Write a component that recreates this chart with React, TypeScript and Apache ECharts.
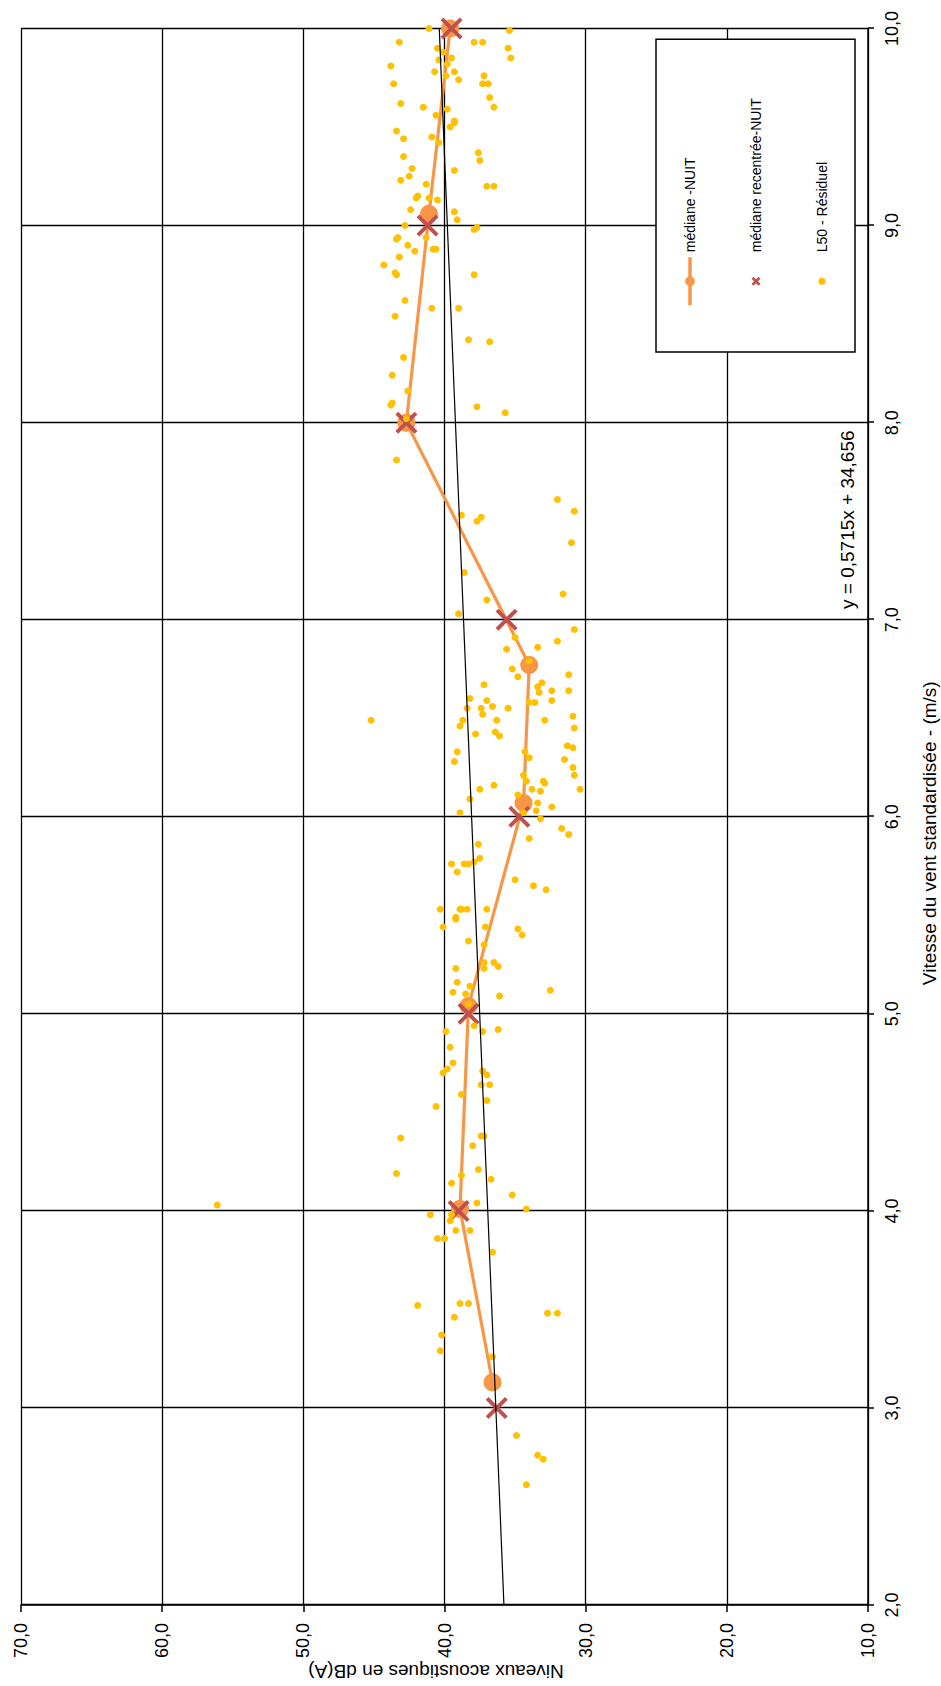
import React, { useEffect, useRef } from "react";
import * as echarts from "echarts";

const PAGE_W = 941;
const PAGE_H = 1686;
const FONT = "'Liberation Sans', Arial, sans-serif";

// L50 - Résiduel : [vitesse du vent (m/s), niveau dB(A)]
const residualPoints: [number, number][] = [
  [10.0, 41.1], [9.99, 35.4], [9.93, 43.2], [9.93, 37.9], [9.93, 37.3], [9.9, 40.5], [9.88, 40.1], [9.9, 35.5],
  [9.85, 35.3], [9.81, 43.8], [9.84, 40.4], [9.85, 39.5], [9.82, 39.8], [9.78, 40.7], [9.78, 39.3], [9.76, 39.9],
  [9.74, 39.0], [9.76, 37.2], [9.72, 37.3], [9.72, 36.9], [9.72, 43.6], [9.65, 36.8], [9.6, 36.5], [9.62, 43.1],
  [9.6, 41.5], [9.59, 39.8], [9.56, 40.6], [9.53, 39.3], [9.52, 39.3], [9.5, 39.6], [9.48, 43.4], [9.44, 42.9],
  [9.45, 40.9], [9.42, 40.4], [9.37, 37.6], [9.33, 37.5], [9.35, 42.9], [9.29, 42.3], [9.25, 42.5], [9.23, 43.1],
  [9.28, 39.3], [9.21, 41.3], [9.2, 37.0], [9.2, 36.5], [9.15, 41.9], [9.14, 42.0], [9.14, 41.1], [9.13, 40.5],
  [9.08, 42.4], [9.07, 39.3], [9.03, 39.1], [9.0, 42.8], [8.98, 37.9], [8.99, 37.7], [8.94, 41.3], [8.94, 43.3],
  [8.93, 43.4], [8.9, 42.6], [8.87, 42.1], [8.88, 40.8], [8.88, 40.6], [8.84, 43.2], [8.8, 44.3], [8.76, 43.5],
  [8.75, 43.4], [8.75, 37.9], [8.62, 42.8], [8.58, 40.9], [8.58, 39.0], [8.54, 43.5], [8.42, 38.3], [8.41, 36.8],
  [8.33, 42.9], [8.24, 43.7], [8.16, 42.6], [8.1, 43.7], [8.09, 43.8], [8.08, 37.7], [8.05, 35.7], [8.02, 42.7],
  [7.81, 43.4], [7.61, 32.0], [7.55, 30.8], [7.53, 38.8], [7.52, 37.4], [7.5, 37.7], [7.39, 31.0], [7.24, 38.6],
  [7.13, 31.6], [7.1, 37.0], [7.03, 39.0], [6.95, 30.8], [6.91, 35.0], [6.89, 32.0], [6.86, 33.4], [6.85, 35.6],
  [6.79, 34.0], [6.75, 35.2], [6.71, 34.8], [6.72, 31.2], [6.67, 37.2], [6.68, 33.1], [6.66, 33.4], [6.64, 32.4],
  [6.64, 31.2], [6.63, 33.3], [6.6, 38.2], [6.59, 37.0], [6.59, 32.4], [6.58, 34.0], [6.58, 33.6], [6.55, 38.4],
  [6.55, 37.4], [6.56, 36.6], [6.55, 35.5], [6.52, 37.3], [6.51, 30.9], [6.49, 45.2], [6.49, 38.7], [6.49, 36.3],
  [6.49, 32.9], [6.46, 38.9], [6.45, 30.8], [6.42, 37.8], [6.43, 36.4], [6.41, 36.1], [6.36, 31.3], [6.35, 30.9],
  [6.33, 39.1], [6.28, 39.3], [6.33, 34.3], [6.3, 34.0], [6.29, 31.5], [6.25, 30.9], [6.21, 34.4], [6.18, 34.2],
  [6.21, 30.8], [6.14, 30.4], [6.18, 33.0], [6.17, 32.9], [6.14, 33.8], [6.13, 33.2], [6.16, 36.5], [6.14, 37.5],
  [6.09, 38.2], [6.11, 34.8], [6.07, 33.4], [6.05, 32.4], [6.03, 33.5], [6.02, 34.4], [6.02, 38.9], [5.99, 33.2],
  [5.94, 31.7], [5.91, 31.2], [5.89, 34.0], [5.86, 37.6], [5.76, 39.5], [5.72, 39.1], [5.76, 38.6], [5.76, 38.3],
  [5.77, 37.9], [5.79, 37.5], [5.68, 35.0], [5.65, 33.7], [5.63, 32.8], [5.53, 40.3], [5.53, 38.9], [5.53, 38.8],
  [5.53, 38.4], [5.53, 37.0], [5.49, 39.2], [5.48, 39.2], [5.44, 40.1], [5.44, 37.1], [5.43, 34.8], [5.4, 34.5],
  [5.37, 38.3], [5.35, 37.2], [5.26, 37.2], [5.23, 37.2], [5.26, 36.5], [5.24, 36.2], [5.23, 39.2], [5.16, 39.1],
  [5.14, 38.2], [5.11, 39.4], [5.1, 38.5], [5.09, 36.1], [5.12, 32.5], [5.05, 38.3], [4.94, 37.9], [4.91, 37.3],
  [4.92, 36.2], [4.91, 39.9], [4.83, 39.6], [4.75, 39.4], [4.72, 39.8], [4.7, 40.1], [4.71, 37.3], [4.69, 37.0],
  [4.64, 37.4], [4.64, 36.8], [4.56, 37.0], [4.59, 38.8], [4.53, 40.6], [4.37, 43.1], [4.38, 37.4], [4.38, 37.2],
  [4.33, 38.0], [4.19, 43.4], [4.21, 37.6], [4.16, 36.7], [4.18, 38.8], [4.14, 39.5], [4.08, 35.2], [4.03, 56.1],
  [4.01, 34.2], [4.04, 37.7], [3.98, 41.0], [3.98, 39.5], [3.95, 39.6], [3.9, 39.2], [3.9, 38.2], [3.86, 40.5],
  [3.86, 40.0], [3.79, 36.6], [3.52, 41.9], [3.53, 38.9], [3.53, 38.3], [3.46, 39.3], [3.48, 32.7], [3.48, 32.0],
  [3.37, 40.2], [3.29, 40.3], [3.26, 36.6], [2.86, 34.9], [2.76, 33.4], [2.74, 33.0], [2.61, 34.2],
];

// médiane -NUIT
const medianWind = [3.13, 4.01, 5.04, 6.07, 6.77, 8.0, 9.06, 10.0];
const medianDb = [36.6, 38.9, 38.3, 34.4, 34.0, 42.7, 41.1, 39.6];

// médiane recentrée-NUIT
const recenteredWind = [3, 4, 5, 6, 7, 8, 9, 10];
const recenteredDb = [36.3, 39.0, 38.3, 34.7, 35.6, 42.7, 41.2, 39.5];

// courbe de tendance linéaire
const trendWind = [2, 10];
const trendDb = [35.79, 40.37];
const trendEquation = "y = 0,5715x + 34,656";

const xTitle = "Vitesse du vent standardisée - (m/s)";
const yTitle = "Niveaux acoustiques en dB(A)";
const seriesNames = ["médiane -NUIT", "médiane recentrée-NUIT", "L50 - Résiduel"];

const COLOR_MEDIAN = "#F79646";
const COLOR_RECENTERED = "#C0504D";
const COLOR_RESIDUAL = "#FFC000";

const CROSS_SYMBOL =
  "path://M1.5,0L6,4.5L10.5,0L12,1.5L7.5,6L12,10.5L10.5,12L6,7.5L1.5,12L0,10.5L4.5,6L0,1.5Z";
const CROSS_ICON =
  "path://M0,0M12,12M1.5,3.4L3.4,1.5L6,4.1L8.6,1.5L10.5,3.4L7.9,6L10.5,8.6L8.6,10.5L6,7.9L3.4,10.5L1.5,8.6L4.1,6Z";
const DOT_ICON = "path://M0,0M12,12M2.4,6a3.6,3.6,0,1,0,7.2,0a3.6,3.6,0,1,0,-7.2,0Z";

const fmt = (v: number) => v.toFixed(1).replace(".", ",");

function buildOption(): any {
  return {
    animation: false,
    backgroundColor: "#fff",
    textStyle: { fontFamily: FONT, color: "#000" },
    grid: {
      left: 81,
      top: 21,
      right: 28.5,
      bottom: 73,
      containLabel: false,
      outerBoundsMode: "none",
    },
    xAxis: {
      type: "value",
      min: 2,
      max: 10,
      interval: 1,
      name: xTitle,
      nameLocation: "middle",
      nameGap: 52,
      nameMoveOverlap: false,
      nameTextStyle: { fontSize: 19, color: "#000", fontFamily: FONT, padding: [0, 33, 0, 0] },
      axisLine: { show: true, onZero: false, lineStyle: { color: "#000", width: 1.5 } },
      axisTick: { show: true, inside: false, length: 6, lineStyle: { color: "#000", width: 1.5 } },
      axisLabel: { formatter: fmt, fontSize: 18, color: "#000", margin: 15, fontFamily: FONT },
      splitLine: { show: true, lineStyle: { color: "#000", width: 1.3 } },
    },
    yAxis: {
      type: "value",
      min: 10,
      max: 70,
      interval: 10,
      name: yTitle,
      nameLocation: "middle",
      nameRotate: 90,
      nameGap: 57,
      nameMoveOverlap: false,
      nameTextStyle: { fontSize: 19, color: "#000", fontFamily: FONT, padding: [0, 0, 0, 17] },
      axisLine: { show: true, onZero: false, lineStyle: { color: "#000", width: 1.5 } },
      axisTick: { show: true, inside: false, length: 7, lineStyle: { color: "#000", width: 1.5 } },
      axisLabel: { formatter: fmt, fontSize: 18, color: "#000", margin: 18, fontFamily: FONT },
      splitLine: { show: true, lineStyle: { color: "#000", width: 1.3 } },
    },
    legend: {
      orient: "vertical",
      left: 1334,
      top: 656,
      padding: [27, 59, 26, 45],
      itemGap: 52,
      itemWidth: 48,
      itemHeight: 12,
      selectedMode: false,
      backgroundColor: "#fff",
      borderColor: "#000",
      borderWidth: 1.5,
      borderRadius: 0,
      textStyle: { fontSize: 14, color: "#000", fontFamily: FONT },
      data: [
        { name: seriesNames[0], lineStyle: { color: COLOR_MEDIAN, width: 3.5 } },
        { name: seriesNames[1], icon: CROSS_ICON },
        { name: seriesNames[2], icon: DOT_ICON },
      ],
    },
    graphic: [
      {
        type: "text",
        left: 1077,
        top: 838,
        silent: true,
        style: { text: trendEquation, fontSize: 19, fill: "#000", fontFamily: FONT },
      },
    ],
    series: [
      {
        name: seriesNames[0],
        type: "line",
        data: medianWind.map((w, i) => [w, medianDb[i]]),
        symbol: "circle",
        symbolSize: 18,
        showSymbol: true,
        clip: false,
        silent: true,
        z: 2,
        itemStyle: { color: COLOR_MEDIAN },
        lineStyle: { color: COLOR_MEDIAN, width: 3.2 },
      },
      {
        name: seriesNames[1],
        type: "scatter",
        data: recenteredWind.map((w, i) => [w, recenteredDb[i]]),
        symbol: CROSS_SYMBOL,
        symbolSize: 22,
        clip: false,
        silent: true,
        z: 3,
        itemStyle: { color: COLOR_RECENTERED, opacity: 1 },
      },
      {
        name: seriesNames[2],
        type: "scatter",
        data: residualPoints,
        symbol: "circle",
        symbolSize: 7,
        clip: false,
        silent: true,
        z: 4,
        itemStyle: { color: COLOR_RESIDUAL, opacity: 1 },
      },
      {
        name: "Linéaire (L50 - Résiduel)",
        type: "line",
        data: trendWind.map((w, i) => [w, trendDb[i]]),
        symbol: "none",
        clip: false,
        silent: true,
        z: 5,
        lineStyle: { color: "#000", width: 1.2 },
      },
    ],
  };
}

export default function App() {
  const ref = useRef<HTMLDivElement>(null);

  useEffect(() => {
    if (!ref.current) return;
    const chart = echarts.init(ref.current, undefined, {
      renderer: "svg",
      width: PAGE_H,
      height: PAGE_W,
    });
    chart.setOption(buildOption());
    return () => chart.dispose();
  }, []);

  return (
    <div
      style={{
        position: "absolute",
        left: 0,
        top: 0,
        width: PAGE_W,
        height: PAGE_H,
        overflow: "hidden",
        background: "#fff",
      }}
    >
      <div
        ref={ref}
        style={{
          position: "absolute",
          left: 0,
          top: 0,
          width: PAGE_H,
          height: PAGE_W,
          transformOrigin: "0 0",
          transform: `translateY(${PAGE_H}px) rotate(-90deg)`,
        }}
      />
    </div>
  );
}
